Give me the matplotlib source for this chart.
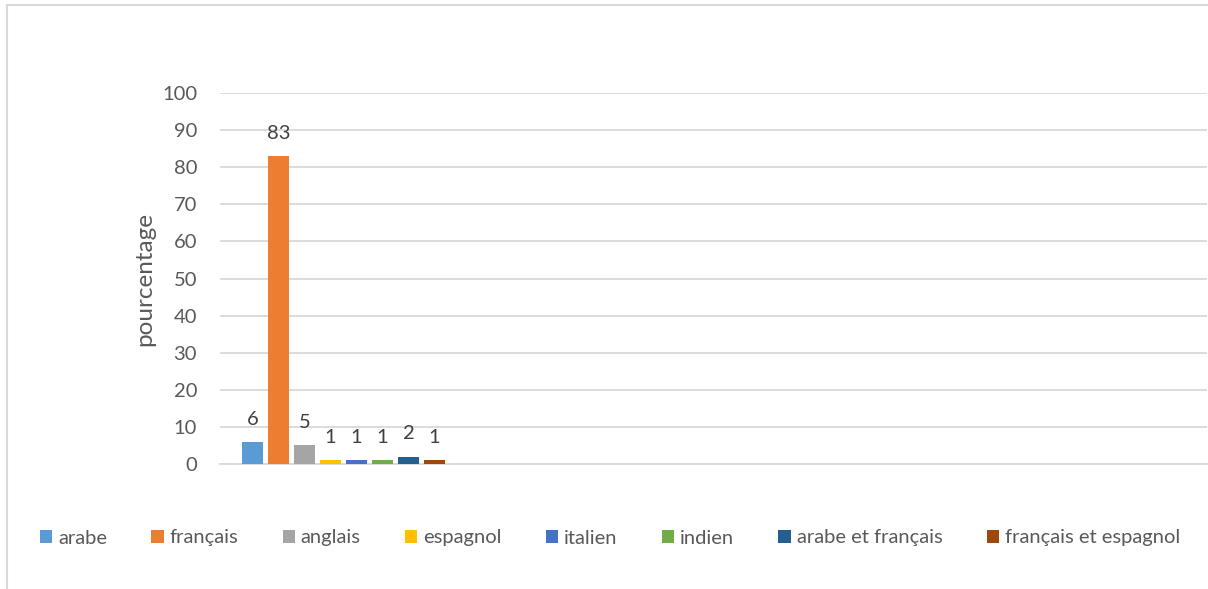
import matplotlib.pyplot as plt
from matplotlib.lines import Line2D
import numpy as np

# series (one language each), only the first category holds data
langues = ['arabe', 'français', 'anglais', 'espagnol', 'italien', 'indien',
           'arabe et français', 'français et espagnol']
valeurs = [6, 83, 5, 1, 1, 1, 2, 1]
couleurs = ['#5B9BD5', '#ED7D31', '#A5A5A5', '#FFC000', '#4472C4', '#70AD47',
            '#255E91', '#9E480E']
n_categories = 4
yticks = list(range(0, 101, 10))

plt.rcParams['font.family'] = ['Lato', 'DejaVu Sans']
gris_txt = '#595959'
gris_ligne = '#D9D9D9'

fig = plt.figure(figsize=(12.08, 5.89), dpi=100)
ax = fig.add_axes([0.1821, 0.2122, 0.8171, 0.6299])

pas = 0.1054
largeur = 0.0851
n = len(langues)
for i, (lang, v, c) in enumerate(zip(langues, valeurs, couleurs)):
    x = (i - (n - 1) / 2) * pas
    ax.bar(x, v, width=largeur, color=c, label=lang, zorder=3)
    ax.text(x, v + 3.8, str(v), ha='center', va='bottom', fontsize=14.5,
            color='#404040')

ax.set_xlim(-0.5, n_categories - 0.5)
ax.set_ylim(0, 100)
ax.set_yticks(yticks)
ax.set_xticks([])
ax.tick_params(axis='y', length=0, pad=16.5, labelsize=14.5, labelcolor=gris_txt)
ax.grid(axis='y', color=gris_ligne, linewidth=1.3, zorder=0)
for s in ['top', 'right', 'left']:
    ax.spines[s].set_visible(False)
ax.spines['bottom'].set_color(gris_ligne)
ax.spines['bottom'].set_linewidth(1.3)
ax.set_ylabel('pourcentage', fontsize=17.5, color=gris_txt, labelpad=5)

leg = fig.legend(loc='center', bbox_to_anchor=(0.505, 1 - 538 / 589), ncol=n,
                 frameon=False, fontsize=14.5, handlelength=0.6,
                 handleheight=0.6, handletextpad=0.3, columnspacing=2.2)
for t in leg.get_texts():
    t.set_color(gris_txt)

# chart area border (cropped at right and bottom)
fig.add_artist(Line2D([7 / 1208, 1], [1 - 5 / 589, 1 - 5 / 589],
                      transform=fig.transFigure, color=gris_ligne, linewidth=1.5))
fig.add_artist(Line2D([7 / 1208, 7 / 1208], [0, 1 - 5 / 589],
                      transform=fig.transFigure, color=gris_ligne, linewidth=1.5))

plt.savefig('out.png', dpi=100)
